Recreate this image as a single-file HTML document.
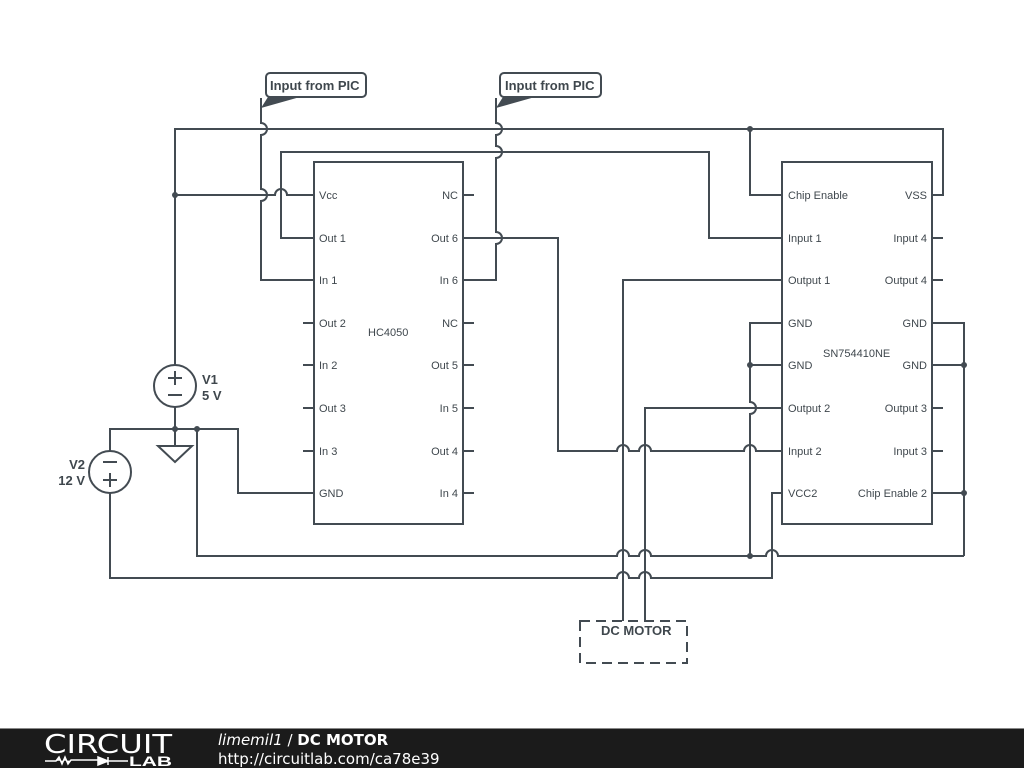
<!DOCTYPE html>
<html><head><meta charset="utf-8"><style>
html,body{margin:0;padding:0;background:#fff;width:1024px;height:768px;overflow:hidden}
svg{display:block}
text{font-family:"Liberation Sans",sans-serif;fill:#3f474d}
</style></head><body>
<svg width="1024" height="768" viewBox="0 0 1024 768">
<g fill="none" stroke="#434b52" stroke-width="2">
<!-- chips -->
<rect x="314" y="162" width="149" height="362"/>
<rect x="782" y="162" width="150" height="362"/>
<path d="M303 323H314M303 365H314M303 408H314M303 451H314M463 195H474M463 323H474M463 365H474M463 408H474M463 451H474M463 493H474"/>
<path d="M932 238H943M932 280H943M932 408H943M932 451H943"/>
<!-- top rail y129 -->
<path d="M175 365V129H943V195H932"/>
<path d="M750 129V195H782"/>
<!-- y152 -->
<path d="M314 238H281V152H709V238H782"/>
<!-- Vcc -->
<path d="M175 195H275a6 6 0 0 1 12 0H314"/>
<!-- PIC inputs (vertical hops) -->
<path d="M261 98V123a6 6 0 0 1 0 12V189a6 6 0 0 1 0 12V280H314"/>
<path d="M496 98V123a6 6 0 0 1 0 12V146a6 6 0 0 1 0 12V232a6 6 0 0 1 0 12V280H463"/>
<!-- Out6 -->
<path d="M463 238H558V451H617a6 6 0 0 1 12 0H639a6 6 0 0 1 12 0H744a6 6 0 0 1 12 0H782"/>
<!-- Output1 / Output2 to motor -->
<path d="M782 280H623V621"/>
<path d="M782 408H645V621"/>
<!-- GND left with hop at 408 -->
<path d="M782 323H750V402a6 6 0 0 1 0 12V556M750 365H782"/>
<!-- GND right -->
<path d="M932 323H964V556M932 365H964M932 493H964"/>
<!-- y556 -->
<path d="M197 429V556H617a6 6 0 0 1 12 0H639a6 6 0 0 1 12 0H766a6 6 0 0 1 12 0H964"/>
<!-- VCC2 / y578 -->
<path d="M782 493H772V578H651a6 6 0 0 0 -12 0H629a6 6 0 0 0 -12 0H110V493"/>
<!-- y429 -->
<path d="M110 451V429H238V493H314"/>
<path d="M175 407V446"/>
<!-- sources -->
<circle cx="175" cy="386" r="21"/>
<circle cx="110" cy="472" r="21"/>
<path d="M168 378H182M175 371V385M168 395H182"/>
<path d="M103 462H117M103 480H117M110 473V487"/>
<path d="M158 446H192L175 462Z"/>
<!-- motor -->
<rect x="580" y="621" width="107" height="42" stroke-dasharray="10,6"/>
<!-- PIC label boxes -->
<rect x="266" y="73" width="100" height="24" rx="4"/>
<rect x="500" y="73" width="101" height="24" rx="4"/>
</g>
<g fill="#434b52">
<circle cx="175" cy="195" r="3"/><circle cx="750" cy="129" r="3"/>
<circle cx="750" cy="365" r="3"/><circle cx="750" cy="556" r="3"/>
<circle cx="964" cy="365" r="3"/><circle cx="964" cy="493" r="3"/>
<circle cx="175" cy="429" r="3"/><circle cx="197" cy="429" r="3"/>
<path d="M261 108L268 97H300Z"/><path d="M496 108L503 97H535Z"/>
</g>
<g font-size="11">
<text x="319" y="199">Vcc</text><text x="319" y="242">Out 1</text><text x="319" y="284">In 1</text>
<text x="319" y="327">Out 2</text><text x="319" y="369">In 2</text><text x="319" y="412">Out 3</text>
<text x="319" y="455">In 3</text><text x="319" y="497">GND</text>
<g text-anchor="end">
<text x="458" y="199">NC</text><text x="458" y="242">Out 6</text><text x="458" y="284">In 6</text>
<text x="458" y="327">NC</text><text x="458" y="369">Out 5</text><text x="458" y="412">In 5</text>
<text x="458" y="455">Out 4</text><text x="458" y="497">In 4</text>
<text x="927" y="199">VSS</text><text x="927" y="242">Input 4</text><text x="927" y="284">Output 4</text>
<text x="927" y="327">GND</text><text x="927" y="369">GND</text><text x="927" y="412">Output 3</text>
<text x="927" y="455">Input 3</text><text x="927" y="497">Chip Enable 2</text>
</g>
<text x="788" y="199">Chip Enable</text><text x="788" y="242">Input 1</text><text x="788" y="284">Output 1</text>
<text x="788" y="327">GND</text><text x="788" y="369">GND</text><text x="788" y="412">Output 2</text>
<text x="788" y="455">Input 2</text><text x="788" y="497">VCC2</text>
<text x="368" y="336">HC4050</text><text x="823" y="357">SN754410NE</text>
</g>
<g font-size="13" font-weight="bold">
<text x="270" y="90">Input from PIC</text><text x="505" y="90">Input from PIC</text>
<text x="601" y="635">DC MOTOR</text>
<text x="202" y="384">V1</text><text x="202" y="400">5 V</text>
<text x="85" y="469" text-anchor="end">V2</text><text x="85" y="485" text-anchor="end">12 V</text>
</g>
<rect x="0" y="729" width="1024" height="39" fill="#1b1b1b"/>
<rect x="0" y="728" width="1024" height="1" fill="#888"/>
<text x="44" y="753" font-size="26" style="fill:#fff;font-family:'DejaVu Sans',sans-serif" textLength="128" lengthAdjust="spacingAndGlyphs">CIRCUIT</text>
<path d="M45 761H56l3-4 3 7 3-7 3 7 3-4H98M98 757V765L108 761ZM108 757V765M108 761H128" stroke="#fff" stroke-width="1.5" fill="#fff"/>
<text x="129" y="766" font-size="14" font-weight="bold" style="fill:#fff" textLength="43" lengthAdjust="spacingAndGlyphs">LAB</text>
<text x="218" y="745" font-size="15" style="fill:#fff;font-family:'DejaVu Sans',sans-serif"><tspan font-style="italic">limemil1</tspan> / <tspan font-weight="bold">DC MOTOR</tspan></text>
<text x="218" y="764" font-size="15" style="fill:#fff;font-family:'DejaVu Sans',sans-serif">http://circuitlab.com/ca78e39</text>
</svg>
</body></html>
